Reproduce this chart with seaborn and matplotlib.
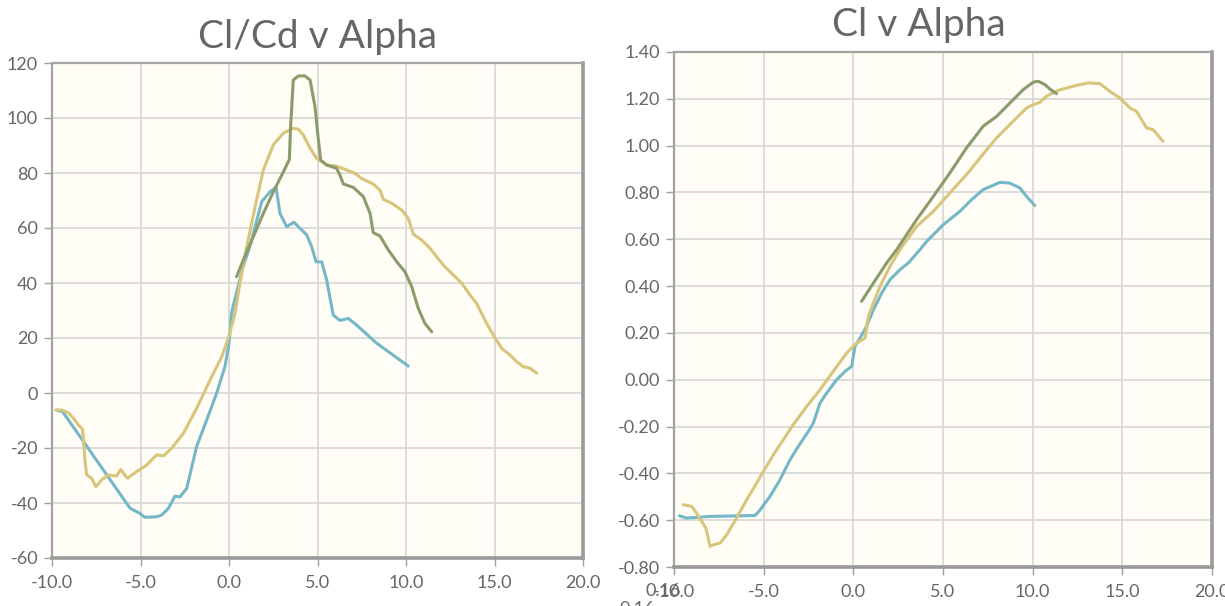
import pandas as pd
import matplotlib
matplotlib.use("Agg")
import matplotlib.pyplot as plt
import seaborn as sns
from matplotlib.ticker import MultipleLocator, FormatStrFormatter

# Cl/Cd v Alpha
clcd_blue_x = [-9.77, -9.4, -5.59, -5.03, -4.75, -4.09, -3.8, -3.43, -3.05, -2.77, -2.39, -1.83, -1.26, -0.7, -0.23, 0.0,
               0.15, 0.43, 0.81, 1.19, 1.85, 2.32, 2.66, 2.88, 3.26, 3.67, 4.01, 4.39, 4.67, 4.92, 5.24, 5.52, 5.89,
               6.27, 6.74, 7.21, 8.34, 10.13]
clcd_blue_y = [-6.2, -6.8, -41.9, -43.8, -45.2, -45.0, -44.4, -42.0, -37.5, -37.8, -34.7, -19.5, -9.8, -0.1, 9.6, 18.0,
               29.3, 36.6, 46.2, 53.5, 69.6, 73.2, 74.8, 65.3, 60.5, 62.1, 59.9, 57.5, 53.2, 47.7, 47.7, 41.0, 28.3,
               26.4, 27.1, 24.7, 18.1, 9.8]
clcd_gold_x = [-9.77, -9.45, -9.08, -8.79, -8.51, -8.27, -8.14, -8.04, -7.76, -7.52, -7.2, -6.82, -6.35, -6.12, -5.74,
               -5.22, -4.65, -4.09, -3.71, -3.24, -2.58, -1.83, -1.07, -0.41, -0.04, 0.34, 0.62, 1.0, 1.56, 1.94, 2.5,
               3.07, 3.63, 3.92, 4.2, 4.58, 4.95, 5.52, 6.08, 6.65, 7.12, 7.49, 8.15, 8.53, 8.72, 9.19, 9.76, 10.13,
               10.41, 10.89, 11.36, 12.11, 12.68, 13.15, 13.62, 13.99, 14.46, 14.93, 15.41, 15.88, 16.25, 16.63,
               17.01, 17.38]
clcd_gold_y = [-6.2, -6.2, -7.2, -9.2, -11.6, -13.2, -24.4, -29.8, -31.0, -34.1, -31.6, -29.8, -30.2, -27.8, -31.0,
               -28.6, -26.2, -22.5, -22.9, -20.1, -14.7, -5.6, 4.7, 13.2, 19.9, 29.0, 39.9, 53.2, 70.2, 81.1, 90.2,
               94.5, 96.3, 95.9, 93.8, 89.0, 85.3, 82.9, 82.5, 81.1, 79.9, 78.0, 76.0, 73.8, 70.4, 69.0, 66.5, 63.5,
               57.8, 55.6, 52.6, 46.5, 42.9, 39.9, 35.6, 32.6, 26.5, 21.1, 16.2, 13.8, 11.4, 9.6, 9.0, 7.2]
clcd_green_x = [0.43, 0.81, 1.37, 1.94, 2.5, 3.07, 3.41, 3.48, 3.63, 3.92, 4.29, 4.58, 4.86, 5.05, 5.18, 5.52, 6.08,
                6.27, 6.46, 7.02, 7.59, 7.97, 8.15, 8.53, 9.0, 9.47, 9.94, 10.32, 10.69, 11.07, 11.45]
clcd_green_y = [42.3, 48.4, 56.8, 65.3, 73.1, 80.4, 84.9, 96.8, 113.8, 115.3, 115.3, 113.8, 104.1, 92.0, 84.7, 82.9,
                81.7, 79.2, 76.0, 74.8, 71.4, 65.3, 58.3, 57.1, 52.0, 47.8, 44.1, 38.7, 30.8, 25.3, 22.3]

# Cl v Alpha
cl_blue_x = [-9.7, -9.29, -7.99, -5.48, -5.2, -4.65, -4.09, -3.53, -3.07, -2.51, -2.23, -1.86, -1.49, -0.93, -0.46,
             -0.09, 0.09, 0.37, 0.74, 1.12, 1.58, 2.04, 2.6, 3.07, 3.72, 4.09, 5.01, 5.94, 6.59, 7.24, 8.17, 8.73,
             9.29, 9.66, 10.12]
cl_blue_y = [-0.581, -0.591, -0.584, -0.58, -0.556, -0.499, -0.427, -0.342, -0.285, -0.221, -0.185, -0.1, -0.057,
             0.0, 0.036, 0.057, 0.142, 0.178, 0.228, 0.299, 0.37, 0.427, 0.47, 0.499, 0.556, 0.591, 0.662, 0.719,
             0.769, 0.812, 0.843, 0.84, 0.819, 0.783, 0.744]
cl_gold_x = [-9.48, -9.01, -8.74, -8.46, -8.22, -7.99, -7.81, -7.43, -7.06, -6.51, -5.95, -5.39, -5.02, -4.46, -3.9,
             -3.35, -2.6, -1.86, -1.12, -0.37, 0.19, 0.65, 0.84, 1.12, 1.49, 2.04, 2.6, 3.53, 4.46, 5.38, 6.31, 7.06,
             7.99, 8.91, 9.66, 10.03, 10.4, 10.77, 11.42, 12.26, 13.09, 13.75, 14.3, 14.86, 15.42, 15.79, 16.35,
             16.72, 17.27]
cl_gold_y = [-0.534, -0.541, -0.57, -0.605, -0.634, -0.712, -0.705, -0.698, -0.662, -0.591, -0.513, -0.442, -0.392,
             -0.321, -0.256, -0.192, -0.114, -0.043, 0.036, 0.114, 0.157, 0.178, 0.271, 0.328, 0.399, 0.484, 0.556,
             0.655, 0.719, 0.798, 0.876, 0.947, 1.033, 1.104, 1.161, 1.175, 1.185, 1.211, 1.236, 1.254, 1.268,
             1.265, 1.232, 1.204, 1.161, 1.147, 1.076, 1.068, 1.018]
cl_green_x = [0.46, 1.12, 1.86, 2.42, 3.53, 4.46, 5.38, 6.31, 7.24, 7.99, 8.73, 9.47, 10.03, 10.31, 10.68, 10.96, 11.33]
cl_green_y = [0.335, 0.413, 0.499, 0.556, 0.684, 0.783, 0.883, 0.99, 1.083, 1.125, 1.182, 1.239, 1.271, 1.275,
              1.261, 1.242, 1.222]

x_ticks = [-10, -5, 0, 5, 10, 15, 20]
series_colors = {"a": "#74b8c7", "b": "#d8c57c", "c": "#8c9b6c"}


def make_frame(parts):
    frames = []
    for name, xs, ys in parts:
        frames.append(pd.DataFrame({"alpha": xs, "value": ys, "series": name}))
    return pd.concat(frames, ignore_index=True)


clcd_df = make_frame([("a", clcd_blue_x, clcd_blue_y), ("b", clcd_gold_x, clcd_gold_y),
                      ("c", clcd_green_x, clcd_green_y)])
cl_df = make_frame([("a", cl_blue_x, cl_blue_y), ("b", cl_gold_x, cl_gold_y),
                    ("c", cl_green_x, cl_green_y)])

sns.set_style("white")
plt.rcParams["font.family"] = ["Lato", "DejaVu Sans"]
plt.rcParams["axes.unicode_minus"] = False

fig = plt.figure(figsize=(12.25, 6.06), dpi=100, facecolor="white")
ax1 = fig.add_axes([52 / 1225, 48 / 606, 531 / 1225, 495 / 606])
ax2 = fig.add_axes([674 / 1225, 39 / 606, 538 / 1225, 515 / 606])


def style_axes(ax, ylim, ystep, yfmt):
    ax.set_facecolor("#fffdf6")
    ax.set_xlim(-10, 20)
    ax.set_ylim(*ylim)
    ax.set_xticks(x_ticks)
    ax.xaxis.set_major_formatter(FormatStrFormatter("%.1f"))
    ax.yaxis.set_major_locator(MultipleLocator(ystep))
    ax.yaxis.set_major_formatter(FormatStrFormatter(yfmt))
    ax.grid(True, color="#d6d6d6", lw=1.2)
    ax.set_axisbelow(True)
    for side in ["left", "top"]:
        ax.spines[side].set_color("#a3a3a3")
        ax.spines[side].set_linewidth(1.6)
    for side in ["right", "bottom"]:
        ax.spines[side].set_color("#9a9a9a")
        ax.spines[side].set_linewidth(2.6)
    ax.tick_params(direction="out", length=6, width=1, color="#a0a0a0", labelcolor="#666666",
                   labelsize=13, left=True, bottom=True)
    ax.tick_params(axis="x", pad=6)
    ax.tick_params(axis="y", pad=4)
    ax.set_xlabel("")
    ax.set_ylabel("")


sns.lineplot(data=clcd_df, x="alpha", y="value", hue="series", palette=series_colors, sort=False,
             estimator=None, legend=False, lw=2.2, ax=ax1)
sns.lineplot(data=cl_df, x="alpha", y="value", hue="series", palette=series_colors, sort=False,
             estimator=None, legend=False, lw=2.2, ax=ax2)

style_axes(ax1, (-60, 120), 20, "%d")
style_axes(ax2, (-0.8, 1.4), 0.2, "%.2f")

fig.text(317 / 1225, 1 - 37 / 606, "Cl/Cd v Alpha", ha="center", va="center", fontsize=28, color="#666666")
fig.text(919 / 1225, 1 - 25 / 606, "Cl v Alpha", ha="center", va="center", fontsize=28, color="#666666")

# stray overlapping labels seen in the original
fig.text(645 / 1225, 1 - 591 / 606, "0.16", ha="left", va="center", fontsize=13, color="#666666")
fig.text(620 / 1225, 1 - 601 / 606, "0.16", ha="left", va="top", fontsize=13, color="#666666")

fig.savefig("out.png", dpi=100, facecolor="white")
